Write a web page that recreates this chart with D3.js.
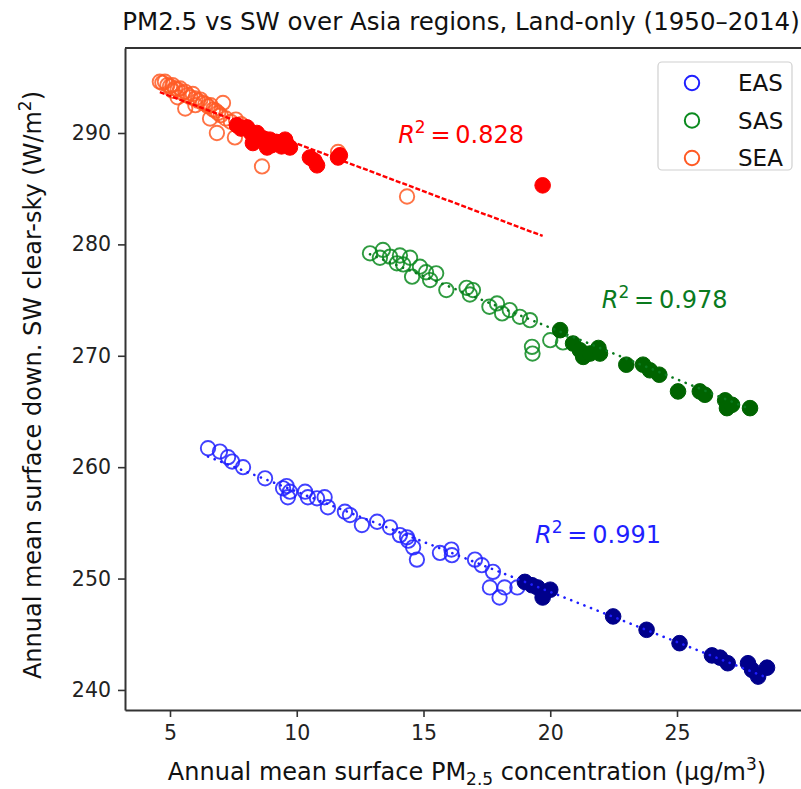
<!DOCTYPE html>
<html>
<head>
<meta charset="utf-8">
<script src="https://cdn.jsdelivr.net/npm/d3@7"></script>
<style>
  body { margin: 0; background: #fff; }
  svg { display: block; font-family: "DejaVu Sans", sans-serif; }
</style>
</head>
<body>
<svg id="chart"></svg>
<script>
// [PM2.5 ug/m3, SW clear-sky W/m2] pairs
// open circles = earlier years, filled = later years
const EAS_OPEN = [
    [6.5, 261.7], [6.97, 261.4], [7.29, 260.9], [7.45, 260.5], [7.88, 260.0], [8.75, 259.0],
    [9.46, 258.1], [9.6, 258.3], [9.73, 257.8], [9.65, 257.3], [10.33, 257.8], [10.44, 257.3],
    [10.8, 257.2], [11.1, 257.3], [11.23, 256.4], [11.9, 256.0], [12.1, 255.7], [12.57, 254.8],
    [13.17, 255.1], [13.68, 254.6], [14.07, 253.9], [14.35, 253.7], [14.4, 253.4], [14.59, 252.8],
    [14.74, 251.7], [15.65, 252.3], [16.1, 252.6], [16.12, 252.1], [17.03, 251.7], [17.3, 251.2],
    [17.74, 250.6], [17.62, 249.2], [18.0, 248.3], [18.2, 249.2], [18.7, 249.2]
];
const EAS_FILLED = [
    [19.0, 249.7], [19.28, 249.4], [19.5, 249.2], [19.8, 248.8], [20.0, 249.0], [19.7, 248.3],
    [22.48, 246.6], [23.8, 245.4], [25.1, 244.2], [26.38, 243.1], [26.7, 242.9], [27.0, 242.4],
    [27.8, 242.4], [27.96, 241.8], [28.2, 241.2], [28.55, 242.0]
];
const SAS_OPEN = [
    [12.89, 279.2], [13.4, 279.5], [13.28, 278.8], [13.68, 278.9], [14.07, 279.0], [13.95, 278.3],
    [14.2, 278.2], [14.47, 278.8], [14.55, 277.1], [14.86, 278.0], [15.1, 277.5], [15.26, 276.8],
    [15.5, 277.4], [15.9, 275.9], [16.7, 276.1], [16.83, 275.5], [16.95, 275.9], [17.6, 274.4],
    [17.9, 274.7], [18.1, 273.8], [18.4, 274.1], [18.8, 273.5], [19.2, 273.2], [19.3, 270.2],
    [19.28, 270.8], [20.0, 271.4], [20.5, 271.2]
];
const SAS_FILLED = [
    [20.39, 272.3], [20.9, 271.1], [21.17, 270.5], [21.3, 269.9], [21.57, 270.2], [21.9, 270.7],
    [21.96, 270.2], [23.0, 269.2], [23.66, 269.2], [23.93, 268.7], [24.3, 268.3], [25.04, 266.8],
    [25.9, 266.8], [26.1, 266.5], [26.9, 266.0], [26.97, 265.3], [27.17, 265.6], [27.88, 265.3]
];
const SEA_OPEN = [
    [4.6, 294.6], [4.7, 294.5], [4.8, 294.6], [4.9, 294.3], [5.0, 294.2], [5.1, 294.3], [5.2, 294.0],
    [5.3, 293.9], [5.4, 294.0], [5.5, 293.6], [5.6, 293.7], [5.7, 293.4], [5.8, 293.2], [5.9, 293.5],
    [6.0, 293.1], [6.1, 292.9], [6.2, 293.0], [6.3, 292.7], [6.4, 292.6], [6.5, 292.4], [6.6, 292.5],
    [6.7, 292.1], [6.8, 292.0], [6.9, 291.8], [7.0, 291.6], [7.2, 291.3], [7.4, 291.0], [5.6, 292.2],
    [7.09, 292.7], [6.85, 290.0], [7.56, 289.6], [8.63, 287.0], [11.63, 288.3], [14.35, 284.3],
    [6.58, 291.3], [5.3, 293.2], [6.0, 292.5], [5.1, 293.8], [7.6, 291.2], [7.8, 290.8]
];
const SEA_FILLED = [
    [7.64, 290.7], [7.8, 290.4], [8.04, 290.5], [8.2, 290.0], [8.43, 290.0], [8.27, 289.1],
    [8.5, 289.6], [8.67, 289.5], [8.83, 288.7], [8.94, 289.4], [9.1, 289.0], [9.2, 289.2],
    [9.4, 288.8], [9.54, 289.4], [9.73, 288.7], [9.6, 289.0], [9.0, 288.9], [10.52, 287.8],
    [10.8, 287.1], [10.7, 287.5], [11.63, 287.8], [11.7, 288.0], [19.7, 285.3]
];

const REGIONS = ['EAS', 'SAS', 'SEA'];
const FIT_SLOPE = [-0.9, -0.927, -0.855];
const FIT_INTERCEPT = [266.8, 291.06, 297.6];
const R2_TEXT = ['0.991', '0.978', '0.828'];
const R2_POS = [[19.4, 253.2], [22.03, 274.3], [14.0, 289.1]];
const X_TICKS = [5, 10, 15, 20, 25];
const Y_TICKS = [240, 250, 260, 270, 280, 290];

const W = 801, H = 789;
const M = {left: 125, top: 48, right: 803, bottom: 710};

const STYLE = {
    EAS: {open: '#1f1fff', filled: '#00008b', line: '#1f1fff', dash: '0.1,7'},
    SAS: {open: '#0a8a1e', filled: '#006400', line: '#0a7a1e', dash: '0.1,7'},
    SEA: {open: '#ff5a24', filled: '#ff0000', line: '#ff0000', dash: '5,2'}
};
const SERIES = {
    EAS: [EAS_OPEN, EAS_FILLED],
    SAS: [SAS_OPEN, SAS_FILLED],
    SEA: [SEA_OPEN, SEA_FILLED]
};

const x = d3.scaleLinear().domain([3.225, 29.97]).range([M.left, M.right]);
const y = d3.scaleLinear().domain([238.2, 297.63]).range([M.bottom, M.top]);

const svg = d3.select('#chart').attr('width', W).attr('height', H);

// points
const plot = svg.append('g');
REGIONS.forEach(r => {
    const [open, filled] = SERIES[r];
    plot.append('g').selectAll('circle').data(open).enter().append('circle')
        .attr('cx', d => x(d[0])).attr('cy', d => y(d[1])).attr('r', 7.2)
        .attr('fill', 'none').attr('stroke', STYLE[r].open).attr('stroke-width', 1.9)
        .attr('opacity', 0.85);
    plot.append('g').selectAll('circle').data(filled).enter().append('circle')
        .attr('cx', d => x(d[0])).attr('cy', d => y(d[1])).attr('r', 7.8)
        .attr('fill', STYLE[r].filled).attr('stroke', STYLE[r].filled).attr('stroke-width', 1);
});

// fit lines on top of the points
REGIONS.forEach((r, i) => {
    const all = SERIES[r][0].concat(SERIES[r][1]);
    const ext = d3.extent(all, d => d[0]);
    const pts = ext.map(v => [v, FIT_INTERCEPT[i] + FIT_SLOPE[i] * v]);
    plot.append('path')
        .attr('d', d3.line().x(d => x(d[0])).y(d => y(d[1]))(pts))
        .attr('fill', 'none').attr('stroke', STYLE[r].line)
        .attr('stroke-width', r === 'SEA' ? 2.4 : 2.6)
        .attr('stroke-linecap', r === 'SEA' ? 'butt' : 'round')
        .attr('stroke-dasharray', STYLE[r].dash);

    const t = plot.append('text')
        .attr('x', x(R2_POS[i][0])).attr('y', y(R2_POS[i][1]))
        .attr('fill', STYLE[r].line).attr('font-size', 24);
    t.append('tspan').attr('font-style', 'italic').text('R');
    t.append('tspan').attr('font-size', 17).attr('dy', -10).text('2');
    t.append('tspan').attr('dy', 10).text('\u2009=\u20090.' + R2_TEXT[i].slice(2));
});

// axes
const xAxis = svg.append('g').attr('transform', `translate(0,${M.bottom})`)
    .call(d3.axisBottom(x).tickValues(X_TICKS).tickSize(7).tickPadding(8).tickSizeOuter(0));
const yAxis = svg.append('g').attr('transform', `translate(${M.left},0)`)
    .call(d3.axisLeft(y).tickValues(Y_TICKS).tickSize(7).tickPadding(7).tickSizeOuter(0));
[xAxis, yAxis].forEach(a => {
    a.selectAll('.domain').attr('stroke', '#333').attr('stroke-width', 2);
    a.selectAll('.tick line').attr('stroke', '#333').attr('stroke-width', 1.6);
    a.selectAll('.tick text').attr('fill', '#222').attr('font-size', 20.5)
        .attr('font-family', '"DejaVu Sans", sans-serif');
});
// top spine
svg.append('line').attr('x1', M.left).attr('x2', M.right).attr('y1', M.top).attr('y2', M.top)
    .attr('stroke', '#333').attr('stroke-width', 2);

// title and axis labels
svg.append('text').attr('x', 461).attr('y', 30).attr('text-anchor', 'middle')
    .attr('font-size', 24.5).attr('fill', '#111')
    .text('PM2.5 vs SW over Asia regions, Land-only (1950\u20132014)');

const xl = svg.append('text').attr('x', 467).attr('y', 780).attr('text-anchor', 'middle')
    .attr('font-size', 24).attr('fill', '#111');
xl.append('tspan').text('Annual mean surface PM');
xl.append('tspan').attr('font-size', 17).attr('dy', 5).text('2.5');
xl.append('tspan').attr('dy', -5).text(' concentration (\u00b5g/m');
xl.append('tspan').attr('font-size', 17).attr('dy', -10).text('3');
xl.append('tspan').attr('dy', 10).text(')');

const yl = svg.append('text').attr('transform', 'translate(41,385) rotate(-90)')
    .attr('text-anchor', 'middle').attr('font-size', 24).attr('fill', '#111');
yl.append('tspan').text('Annual mean surface down. SW clear-sky (W/m');
yl.append('tspan').attr('font-size', 17).attr('dy', -10).text('2');
yl.append('tspan').attr('dy', 10).text(')');

// legend
const lg = svg.append('g');
lg.append('rect').attr('x', 658).attr('y', 62).attr('width', 134).attr('height', 108)
    .attr('rx', 4).attr('fill', '#fff').attr('fill-opacity', 0.8)
    .attr('stroke', '#d0d0d0').attr('stroke-width', 1.2);
REGIONS.forEach((r, i) => {
    const cy = 83 + i * 37.5;
    lg.append('circle').attr('cx', 692).attr('cy', cy).attr('r', 7.2)
        .attr('fill', 'none').attr('stroke', STYLE[r].open).attr('stroke-width', 2);
    lg.append('text').attr('x', 738).attr('y', cy + 8).attr('font-size', 23)
        .attr('fill', '#111').text(r);
});
</script>
</body>
</html>
